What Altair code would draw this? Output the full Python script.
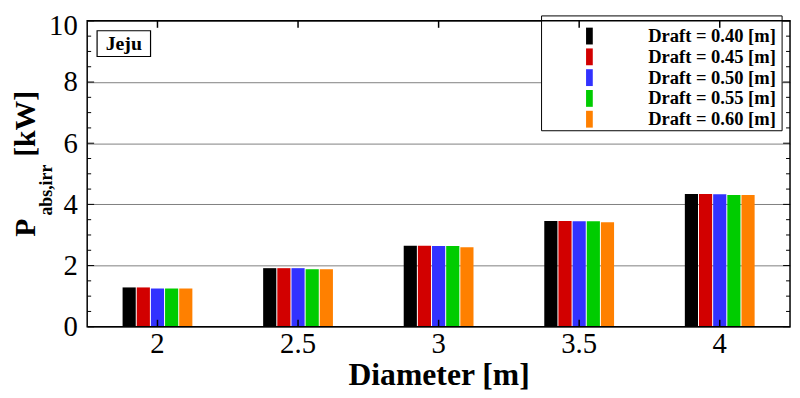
import altair as alt
import pandas as pd

diameters = ["2", "2.5", "3", "3.5", "4"]
drafts = ["Draft = 0.40 [m]", "Draft = 0.45 [m]", "Draft = 0.50 [m]",
          "Draft = 0.55 [m]", "Draft = 0.60 [m]"]
p040 = [1.285, 1.915, 2.65, 3.46, 4.34]
p045 = [1.285, 1.915, 2.65, 3.46, 4.34]
p050 = [1.25, 1.915, 2.64, 3.45, 4.33]
p055 = [1.25, 1.88, 2.64, 3.45, 4.31]
p060 = [1.25, 1.88, 2.60, 3.42, 4.31]
colors = ["#000000", "#d20000", "#3232ff", "#00cc00", "#ff8000"]

y_major = [0, 2, 4, 6, 8, 10]
y_minor = [0.5, 1, 1.5, 2.5, 3, 3.5, 4.5, 5, 5.5, 6.5, 7, 7.5, 8.5, 9, 9.5]

W, H = 710, 309
SERIF = "Liberation Serif"

rows = []
for d, vals in zip(drafts, [p040, p045, p050, p055, p060]):
    for dia, v in zip(diameters, vals):
        rows.append({"Diameter": dia, "Draft": d, "P": v})
df = pd.DataFrame(rows)

xscale = alt.Scale(domain=diameters, paddingInner=0, paddingOuter=0)
yscale = alt.Scale(domain=[0, 10], nice=False, zero=True)
band = W / len(diameters)
group = 70.5

xaxis = alt.Axis(labelAngle=0, ticks=False, domain=False,
                 labelFont=SERIF, labelFontSize=29, labelColor="black",
                 labelPadding=3, title="Diameter [m]",
                 titleFont=SERIF, titleFontSize=32, titleFontWeight="bold",
                 titleColor="black", titlePadding=1)
yaxis = alt.Axis(values=y_major, grid=True, gridColor="#808080",
                 gridWidth=1, ticks=False, domain=False,
                 labelFont=SERIF, labelFontSize=29, labelColor="black",
                 labelPadding=10, title=None,
                 labelOffset={"condition": {"test": "datum.value == 10", "value": 5},
                              "value": 0})

bars = alt.Chart(df).mark_bar().encode(
    x=alt.X("Diameter:N", sort=diameters, scale=xscale, axis=xaxis),
    xOffset=alt.XOffset("Draft:N", sort=drafts,
                        scale=alt.Scale(paddingInner=0.07, paddingOuter=0,
                                        range=[(band - group) / 2, (band + group) / 2])),
    y=alt.Y("P:Q", scale=yscale, axis=yaxis),
    color=alt.Color("Draft:N", sort=drafts,
                    scale=alt.Scale(domain=drafts, range=colors),
                    legend=alt.Legend(orient="none", legendX=498, legendY=6,
                                      title=None, padding=0, symbolOffset=0,
                                      labelFont=SERIF, labelFontWeight="bold",
                                      labelFontSize=18.7, labelColor="black",
                                      symbolType="M-0.4,-1H0.4V1H-0.4Z",
                                      symbolSize=289, symbolStrokeWidth=0,
                                      symbolOpacity=1, rowPadding=1,
                                      labelOffset=50)),
)

one = pd.DataFrame({"a": [1]})

legend_box = alt.Chart(one).mark_rect(fill="white", stroke="black", strokeWidth=1).encode(
    x=alt.value(459), x2=alt.value(702), y=alt.value(-5), y2=alt.value(111))

jeju_box = alt.Chart(one).mark_rect(fill="white", stroke="black", strokeWidth=1.2).encode(
    x=alt.value(10), x2=alt.value(64), y=alt.value(10), y2=alt.value(36))
jeju_txt = alt.Chart(one).mark_text(font=SERIF, fontWeight="bold", fontSize=20,
                                    color="black", align="center", baseline="middle").encode(
    x=alt.value(37), y=alt.value(23), text=alt.value("Jeju"))

ymaj = pd.DataFrame({"P": y_major})
ymin = pd.DataFrame({"P": y_minor})
xt = pd.DataFrame({"Diameter": diameters})

def yticks(data, length):
    left = alt.Chart(data).mark_rule(color="black", strokeWidth=1).encode(
        y=alt.Y("P:Q", scale=yscale, axis=yaxis), x=alt.value(0), x2=alt.value(length))
    right = alt.Chart(data).mark_rule(color="black", strokeWidth=1).encode(
        y=alt.Y("P:Q", scale=yscale, axis=yaxis), x=alt.value(W), x2=alt.value(W - length))
    return [left, right]

xtick_b = alt.Chart(xt).mark_rule(color="black", strokeWidth=1.5).encode(
    x=alt.X("Diameter:N", sort=diameters, scale=xscale, axis=xaxis, bandPosition=0.5),
    y=alt.value(H), y2=alt.value(H - 7))
xtick_t = alt.Chart(xt).mark_rule(color="black", strokeWidth=1.5).encode(
    x=alt.X("Diameter:N", sort=diameters, scale=xscale, axis=xaxis, bandPosition=0.5),
    y=alt.value(0), y2=alt.value(7))

frame = alt.Chart(one).mark_rect(fillOpacity=0, stroke="black", strokeWidth=1.5).encode(
    x=alt.value(0), x2=alt.value(W), y=alt.value(0), y2=alt.value(H))

def ytxt(t, size, x, y):
    return alt.Chart(one).mark_text(font=SERIF, fontWeight="bold", fontSize=size,
                                    color="black", angle=270, align="center",
                                    baseline="alphabetic").encode(
        x=alt.value(x), y=alt.value(y), text=alt.value(t))

title_p = ytxt("P", 30, -53, 209)
title_sub = ytxt("abs,irr", 18, -36, 171)
title_kw = ytxt("[kW]", 30, -53, 104)

chart = alt.layer(
    bars, legend_box, jeju_box, jeju_txt,
    *yticks(ymaj, 7), *yticks(ymin, 4),
    xtick_b, xtick_t, frame, title_p, title_sub, title_kw
).properties(
    width=W, height=H,
    autosize=alt.AutoSizeParams(type="none"),
    padding={"left": 80, "top": 11, "right": 2, "bottom": 70},
).configure_view(stroke=None).configure_axis(
    labelFont=SERIF, titleFont=SERIF
).configure_text(font=SERIF)

chart.save("out.html", embed_options={"renderer": "svg", "actions": False})
